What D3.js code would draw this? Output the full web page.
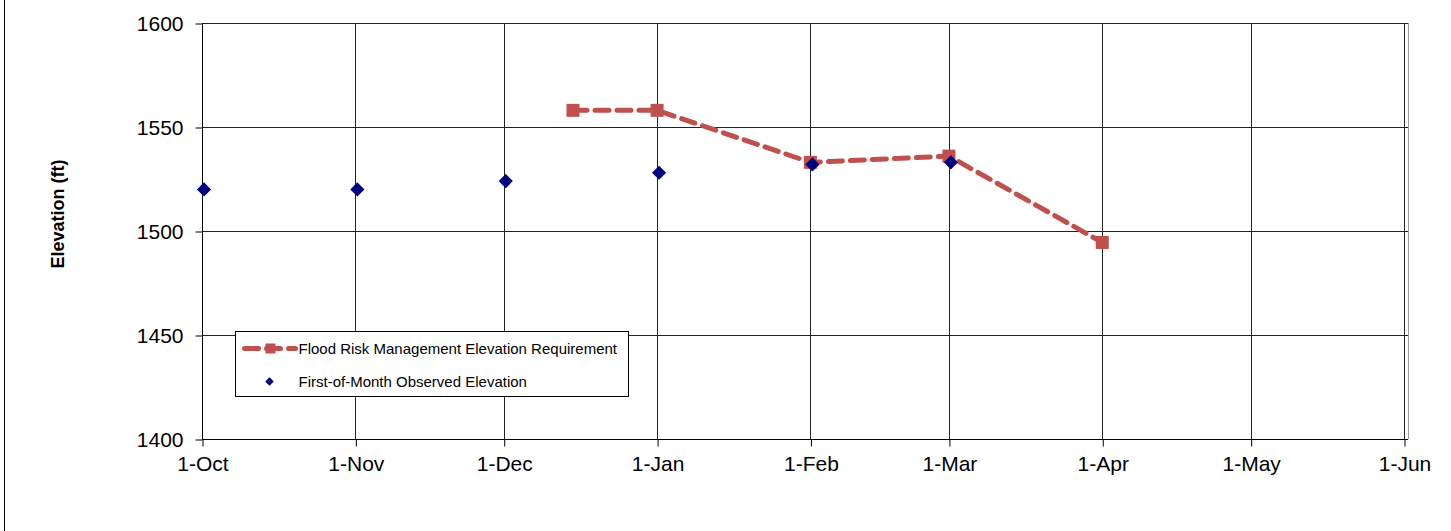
<!DOCTYPE html>
<html>
  <head>
    <meta charset="utf-8">
    <script src="https://d3js.org/d3.v7.min.js"></script>
    <style>
      body { margin: 0; background: #fff; }
      text { font-family: Arial, "Liberation Sans", sans-serif; }
    </style>
  </head>
<body>
<script type="text/javascript">
  // chart data
  var tickLabels = ["1-Oct", "1-Nov", "1-Dec", "1-Jan", "1-Feb", "1-Mar", "1-Apr", "1-May", "1-Jun"];
  var tickDates = ["2010-10-01", "2010-11-01", "2010-12-01", "2011-01-01", "2011-02-01",
                   "2011-03-01", "2011-04-01", "2011-05-01", "2011-06-01"];
  var yTicks = [1400, 1450, 1500, 1550, 1600];

  var floodDates = ["2010-12-15", "2011-01-01", "2011-02-01", "2011-03-01", "2011-04-01"];
  var floodElev  = [1558, 1558, 1533, 1536, 1494.5];

  var obsDates = ["2010-10-01", "2010-11-01", "2010-12-01", "2011-01-01", "2011-02-01", "2011-03-01"];
  var obsElev  = [1520, 1520, 1524, 1528, 1532, 1533];

  var W = 1451, H = 531;
  var pL = 202, pT = 23, pR = 1408, pB = 439;

  var parse = d3.utcParse("%Y-%m-%d");

  var svg = d3.select("body").append("svg")
      .attr("width", W)
      .attr("height", H);

  // outer frame line on the left
  svg.append("line")
      .attr("x1", 4.5).attr("x2", 4.5)
      .attr("y1", 0).attr("y2", H)
      .attr("stroke", "#000").attr("stroke-width", 1);

  var x = d3.scaleUtc()
      .domain([parse("2010-10-01"), parse("2011-06-01")])
      .range([pL, 1404]);
  var y = d3.scaleLinear()
      .domain([1400, 1600])
      .range([pB, pT]);

  // gridlines
  var grid = svg.append("g");
  grid.selectAll("line.h").data(yTicks).enter().append("line")
      .attr("x1", pL).attr("x2", pR)
      .attr("y1", function(d){ return Math.round(y(d)) + 0.5; })
      .attr("y2", function(d){ return Math.round(y(d)) + 0.5; })
      .attr("stroke", "#222").attr("stroke-width", 1);
  grid.selectAll("line.v").data(tickDates.slice(1)).enter().append("line")
      .attr("y1", pT).attr("y2", pB)
      .attr("x1", function(d){ return Math.round(x(parse(d))) + 0.5; })
      .attr("x2", function(d){ return Math.round(x(parse(d))) + 0.5; })
      .attr("stroke", "#222").attr("stroke-width", 1);
  // right edge of plot area
  svg.append("line")
      .attr("x1", pR + 0.5).attr("x2", pR + 0.5)
      .attr("y1", pT).attr("y2", pB)
      .attr("stroke", "#999").attr("stroke-width", 1);

  // y axis
  var yAxis = d3.axisLeft(y).tickValues(yTicks).tickSize(7).tickPadding(12)
      .tickFormat(d3.format("d"));
  var gy = svg.append("g")
      .attr("transform", "translate(" + (pL + 0.5) + ",0.5)")
      .call(yAxis);
  gy.selectAll("text").attr("font-size", 21).attr("fill", "#000")
      .style("font-family", "Arial, 'Liberation Sans', sans-serif");
  gy.select(".domain").attr("d", "M0," + (pT - 0.5) + "V" + (pB - 0.5));

  // x axis
  var xAxis = d3.axisBottom(x)
      .tickValues(tickDates.map(parse))
      .tickSize(7).tickPadding(10)
      .tickFormat(function(d, i){ return tickLabels[i]; });
  var gx = svg.append("g")
      .attr("transform", "translate(0.5," + (pB + 0.5) + ")")
      .call(xAxis);
  gx.selectAll("text").attr("font-size", 21).attr("fill", "#000")
      .style("font-family", "Arial, 'Liberation Sans', sans-serif");
  gx.select(".domain").attr("d", "M" + (pL - 0.5) + ",0H" + (pR - 0.5));

  // y title
  svg.append("text")
      .attr("transform", "translate(64," + 214 + ") rotate(-90)")
      .attr("text-anchor", "middle")
      .attr("font-size", 18)
      .attr("font-weight", "bold")
      .text("Elevation (ft)");

  var red = "#C0504D", navy = "#000080";

  // flood requirement line
  var flood = floodDates.map(function(d, i){ return {date: parse(d), v: floodElev[i]}; });
  var line = d3.line()
      .x(function(d){ return x(d.date); })
      .y(function(d){ return y(d.v); });
  svg.append("path")
      .datum(flood)
      .attr("d", line)
      .attr("fill", "none")
      .attr("stroke", red)
      .attr("stroke-width", 5)
      .attr("stroke-dasharray", "14,8")
      .attr("stroke-linecap", "round");
  svg.selectAll("rect.fm").data(flood).enter().append("rect")
      .attr("x", function(d){ return x(d.date) - 6.5; })
      .attr("y", function(d){ return y(d.v) - 6.5; })
      .attr("width", 13).attr("height", 13)
      .attr("fill", red);

  // observed
  var obs = obsDates.map(function(d, i){ return {date: parse(d), v: obsElev[i]}; });
  var diamond = d3.symbol().type(d3.symbolSquare).size(100);
  svg.selectAll("path.ob").data(obs).enter().append("path")
      .attr("d", diamond)
      .attr("transform", function(d){
        return "translate(" + (x(d.date) + 2) + "," + y(d.v) + ") rotate(45)";
      })
      .attr("fill", navy);

  // legend
  var lg = svg.append("g").attr("transform", "translate(235.5,331.5)");
  lg.append("rect")
      .attr("width", 393).attr("height", 65)
      .attr("fill", "#fff").attr("stroke", "#000").attr("stroke-width", 1);
  lg.append("line")
      .attr("x1", 9).attr("x2", 60).attr("y1", 17).attr("y2", 17)
      .attr("stroke", red).attr("stroke-width", 5)
      .attr("stroke-dasharray", "14,8").attr("stroke-linecap", "round");
  lg.append("rect")
      .attr("x", 30).attr("y", 12).attr("width", 10).attr("height", 10)
      .attr("fill", red);
  lg.append("text")
      .attr("x", 63).attr("y", 22)
      .attr("font-size", 15)
      .text("Flood Risk Management Elevation Requirement");
  lg.append("path")
      .attr("d", d3.symbol().type(d3.symbolSquare).size(36))
      .attr("transform", "translate(34,50) rotate(45)")
      .attr("fill", navy);
  lg.append("text")
      .attr("x", 63).attr("y", 55)
      .attr("font-size", 15)
      .text("First-of-Month Observed Elevation");
</script>
</body>
</html>
